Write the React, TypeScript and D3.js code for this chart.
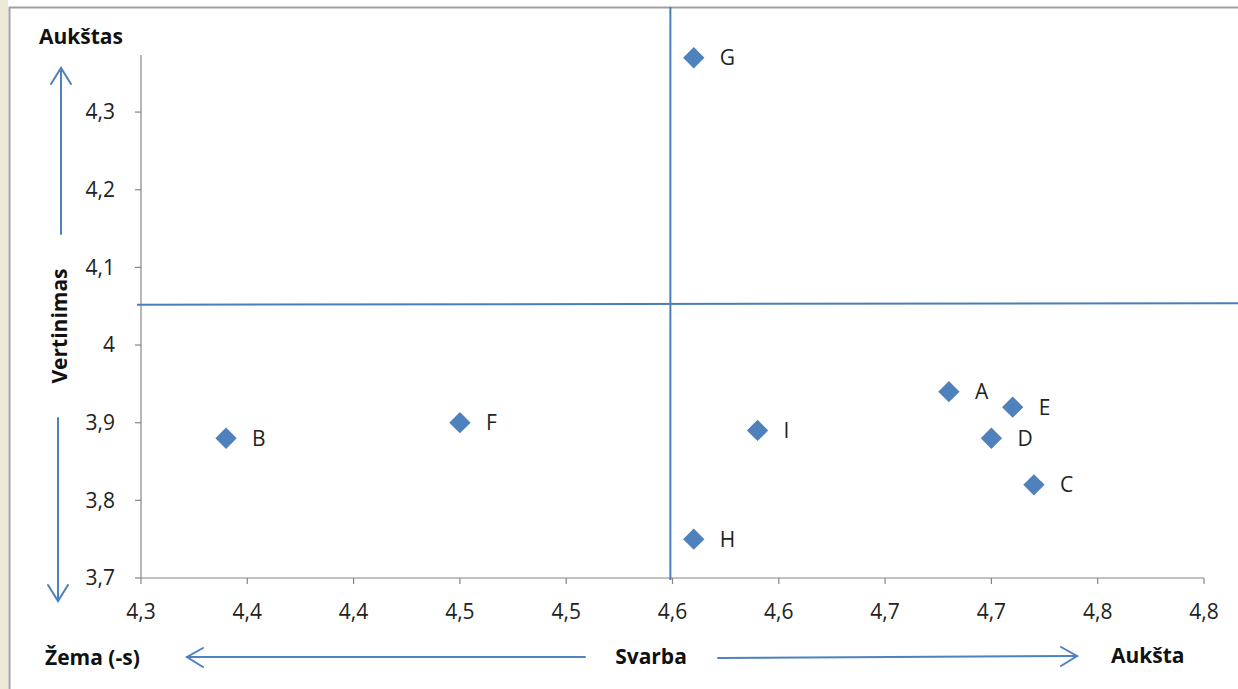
import React from "react";
import * as d3 from "d3";

const names = ["A", "B", "C", "D", "E", "F", "G", "H", "I"];
const svarba = [4.68, 4.34, 4.72, 4.7, 4.71, 4.45, 4.56, 4.56, 4.59];
const vertinimas = [3.94, 3.88, 3.82, 3.88, 3.92, 3.9, 4.37, 3.75, 3.89];

const xTickValues = [4.3, 4.35, 4.4, 4.45, 4.5, 4.55, 4.6, 4.65, 4.7, 4.75, 4.8];
const xTickLabels = ["4,3", "4,4", "4,4", "4,5", "4,5", "4,6", "4,6", "4,7", "4,7", "4,8", "4,8"];
const yTickValues = [3.7, 3.8, 3.9, 4.0, 4.1, 4.2, 4.3];
const yTickLabels = ["3,7", "3,8", "3,9", "4", "4,1", "4,2", "4,3"];

const quadrantX = 4.549;
const quadrantY = 4.052;

const W = 1238;
const H = 689;
const FONT = "'Open Sans', sans-serif";
const BLUE = "#4F81BD";
const LINE_BLUE = "#4A7EBB";
const AXIS = "#868686";

export default function App() {
  const x = d3.scaleLinear().domain([4.3, 4.8]).range([141, 1204]);
  const y = d3.scaleLinear().domain([3.7, 4.3735]).range([578, 55]);
  const [x0, x1] = x.range();
  const [yb, yt] = y.range();

  const diamond = d3.symbol().type(d3.symbolDiamond2).size(290)();

  return (
    <svg
      width={W}
      height={H}
      viewBox={`0 0 ${W} ${H}`}
      style={{ position: "absolute", left: 0, top: 0, display: "block", background: "#fff" }}
      fontFamily={FONT}
    >
      <rect x={0} y={0} width={W} height={H} fill="#ffffff" />
      {/* frame */}
      <rect x={0} y={0} width={8} height={H} fill="#ECE9D8" />
      <line x1={9.5} y1={7} x2={9.5} y2={H} stroke="#A0A0A0" strokeWidth={2} />
      <line x1={9} y1={7.5} x2={W} y2={7.5} stroke="#A0A0A0" strokeWidth={2} />

      {/* axes */}
      <line x1={x0} y1={yb} x2={x1} y2={yb} stroke={AXIS} strokeWidth={1.2} />
      <line x1={x0} y1={yb} x2={x0} y2={yt} stroke={AXIS} strokeWidth={1.2} />
      {xTickValues.map((v, i) => (
        <g key={"xt" + i}>
          <line x1={x(v)} x2={x(v)} y1={yb} y2={yb + 6} stroke={AXIS} strokeWidth={1.2} />
          <text x={x(v)} y={619} textAnchor="middle" fontSize={21} fill="#222">
            {xTickLabels[i]}
          </text>
        </g>
      ))}
      {yTickValues.map((v, i) => (
        <g key={"yt" + i}>
          <line x1={x0 - 6} x2={x0} y1={y(v)} y2={y(v)} stroke={AXIS} strokeWidth={1.2} />
          <text x={115} y={y(v)} dy="0.35em" textAnchor="end" fontSize={21} fill="#222">
            {yTickLabels[i]}
          </text>
        </g>
      ))}

      {/* quadrant lines */}
      <line x1={x(quadrantX)} x2={x(quadrantX)} y1={7} y2={yb + 2} stroke={LINE_BLUE} strokeWidth={2} />
      <line x1={x0 - 4} x2={W} y1={y(quadrantY)} y2={y(quadrantY) - 1.5} stroke={LINE_BLUE} strokeWidth={2} />

      {/* points */}
      {names.map((n, i) => (
        <g key={n} transform={`translate(${x(svarba[i])},${y(vertinimas[i])})`}>
          <path d={diamond} fill={BLUE} />
          <text x={26} dy="0.36em" fontSize={21} fill="#222">
            {n}
          </text>
        </g>
      ))}

      {/* arrows */}
      <g stroke={BLUE} strokeWidth={2} fill="none" strokeLinecap="round">
        <line x1={61} y1={234} x2={61} y2={68} />
        <polyline points="51,84 61,68 71,84" />
        <line x1={58} y1={418} x2={58} y2={601} />
        <polyline points="48,585 58,601 68,585" />
        <line x1={585} y1={657} x2={187} y2={657} />
        <polyline points="203,648 187,657 203,667" />
        <line x1={718} y1={658} x2={1077} y2={656} />
        <polyline points="1061,647 1077,656 1061,666" />
      </g>

      {/* bold labels */}
      <g fontWeight="bold" fontSize={21} fill="#111">
        <text x={39} y={44}>Aukštas</text>
        <text x={45} y={665}>Žema (-s)</text>
        <text x={651} y={664} textAnchor="middle">Svarba</text>
        <text x={1111} y={663}>Aukšta</text>
        <text transform="translate(67,326) rotate(-90)" textAnchor="middle">Vertinimas</text>
      </g>
    </svg>
  );
}
